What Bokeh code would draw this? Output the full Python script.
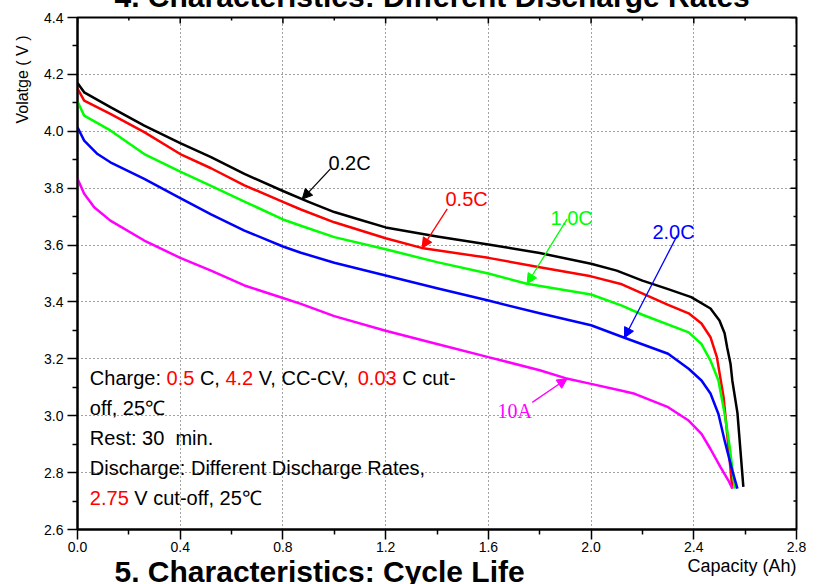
import numpy as np
from bokeh.plotting import figure
from bokeh.models import Range1d, FixedTicker, Label, Arrow, NormalHead, Title
from bokeh.embed import file_html
from bokeh.resources import INLINE

# ---------------- data ----------------
x_ticks = [0.0, 0.4, 0.8, 1.2, 1.6, 2.0, 2.4, 2.8]
x_tick_labels = ["0.0", "0.4", "0.8", "1.2", "1.6", "2.0", "2.4", "2.8"]
x_minor = [0.2, 0.6, 1.0, 1.4, 1.8, 2.2, 2.6]
y_ticks = [2.6, 2.8, 3.0, 3.2, 3.4, 3.6, 3.8, 4.0, 4.2, 4.4]
y_tick_labels = ["2.6", "2.8", "3.0", "3.2", "3.4", "3.6", "3.8", "4.0", "4.2", "4.4"]
y_minor = [2.7, 2.9, 3.1, 3.3, 3.5, 3.7, 3.9, 4.1, 4.3]

c02_x = [0.0, 0.026, 0.128, 0.26, 0.4, 0.52, 0.65, 0.8, 0.9, 1.0, 1.1, 1.2, 1.4, 1.6, 1.8,
         2.0, 2.1, 2.2, 2.3, 2.39, 2.465, 2.5, 2.52, 2.53, 2.543, 2.55, 2.57, 2.593]
c02_y = [4.17, 4.137, 4.085, 4.02, 3.958, 3.909, 3.85, 3.79, 3.752, 3.716, 3.689, 3.662, 3.63,
         3.602, 3.572, 3.534, 3.51, 3.475, 3.445, 3.417, 3.377, 3.335, 3.29, 3.24, 3.183,
         3.124, 3.01, 2.75]

c05_x = [0.0, 0.026, 0.128, 0.26, 0.4, 0.52, 0.65, 0.8, 0.87, 1.0, 1.2, 1.34, 1.6, 1.8, 2.0,
         2.12, 2.3, 2.38, 2.43, 2.465, 2.49, 2.516, 2.535, 2.55]
c05_y = [4.15, 4.108, 4.061, 3.997, 3.92, 3.87, 3.81, 3.752, 3.725, 3.68, 3.624, 3.59, 3.555,
         3.522, 3.49, 3.462, 3.39, 3.36, 3.324, 3.276, 3.206, 3.065, 2.89, 2.744]

c10_x = [0.0, 0.026, 0.128, 0.26, 0.4, 0.52, 0.65, 0.8, 0.87, 1.0, 1.2, 1.4, 1.6, 1.75, 2.0,
         2.12, 2.2, 2.38, 2.43, 2.465, 2.496, 2.52, 2.54, 2.56]
c10_y = [4.105, 4.055, 4.003, 3.92, 3.858, 3.808, 3.753, 3.69, 3.668, 3.628, 3.585, 3.54, 3.50,
         3.464, 3.426, 3.387, 3.355, 3.293, 3.252, 3.194, 3.124, 3.008, 2.889, 2.744]

c20_x = [0.0, 0.026, 0.078, 0.128, 0.26, 0.4, 0.52, 0.65, 0.8, 0.87, 1.0, 1.2, 1.4, 1.6, 1.8,
         2.0, 2.13, 2.3, 2.38, 2.43, 2.465, 2.496, 2.52, 2.55, 2.57]
c20_y = [4.014, 3.967, 3.92, 3.891, 3.833, 3.765, 3.708, 3.651, 3.595, 3.573, 3.538, 3.493,
         3.448, 3.405, 3.36, 3.318, 3.274, 3.218, 3.165, 3.124, 3.078, 3.006, 2.913, 2.807, 2.744]

c10a_x = [0.0, 0.026, 0.065, 0.128, 0.26, 0.4, 0.52, 0.65, 0.8, 0.87, 1.0, 1.2, 1.4, 1.6, 1.8,
          1.9, 2.0, 2.12, 2.17, 2.3, 2.38, 2.43, 2.465, 2.504, 2.535, 2.55]
c10a_y = [3.833, 3.78, 3.733, 3.686, 3.616, 3.555, 3.51, 3.458, 3.414, 3.393, 3.35, 3.299,
          3.252, 3.206, 3.16, 3.132, 3.112, 3.088, 3.077, 3.03, 2.983, 2.936, 2.883, 2.819,
          2.772, 2.744]

series_names = ["0.2C", "0.5C", "1.0C", "2.0C", "10A"]
series_colors = ["#000000", "#ff0000", "#00ff00", "#0000ff", "#ff00ff"]
series_x = [c02_x, c05_x, c10_x, c20_x, c10a_x]
series_y = [c02_y, c05_y, c10_y, c20_y, c10a_y]

# ---------------- figure ----------------
FONT = "Liberation Sans"
X0, X1, Y0, Y1 = 0.0, 2.8, 2.6, 4.4
p = figure(width=824, height=584, x_range=Range1d(X0, X1), y_range=Range1d(Y0, Y1),
           output_backend="svg", toolbar_location=None,
           min_border_left=77, min_border_right=28, min_border_top=17, min_border_bottom=55)
p.background_fill_color = "white"
p.border_fill_color = "white"
p.outline_line_color = "black"
p.outline_line_width = 2

FW, FH = 719, 512                # frame size in pixels
PXX = FW / (X1 - X0)             # pixels per Ah
PXY = FH / (Y1 - Y0)             # pixels per V

xt = FixedTicker(ticks=x_ticks, minor_ticks=x_minor)
yt = FixedTicker(ticks=y_ticks, minor_ticks=y_minor)

for ax, tk, labs, ticks in ((p.xaxis[0], xt, x_tick_labels, x_ticks),
                            (p.yaxis[0], yt, y_tick_labels, y_ticks)):
    ax.ticker = tk
    ax.major_label_overrides = {t: l for t, l in zip(ticks, labs)}
    ax.axis_line_width = 2
    ax.axis_line_color = "black"
    ax.major_tick_line_width = 1.5
    ax.minor_tick_line_width = 1.5
    ax.major_tick_out = 10
    ax.major_tick_in = 0
    ax.minor_tick_out = 5
    ax.minor_tick_in = 0
    ax.major_label_text_font = FONT
    ax.major_label_text_font_size = "14px"
    ax.major_label_text_color = "black"
p.xaxis[0].major_label_standoff = 2
p.yaxis[0].major_label_standoff = 4

for g in (p.xgrid[0], p.ygrid[0]):
    g.grid_line_color = "#444444"
    g.grid_line_dash = "1 3"
    g.grid_line_width = 1

# inward ticks on the top and right frame edges
for ticks, ln in ((x_ticks, 6), (x_minor, 3)):
    p.segment(x0=ticks, y0=[Y1] * len(ticks), x1=ticks, y1=[Y1 - ln / PXY] * len(ticks),
              line_color="black", line_width=1.5)
for ticks, ln in ((y_ticks, 6), (y_minor, 3)):
    p.segment(x0=[X1] * len(ticks), y0=ticks, x1=[X1 - ln / PXX] * len(ticks), y1=ticks,
              line_color="black", line_width=1.5)

for xs, ys, col in zip(series_x, series_y, series_colors):
    p.line(xs, ys, line_color=col, line_width=2.5, line_join="round")

# ---------------- annotations ----------------
# arrows: (series index, tip x, tail x, tail y)
arrows = [(0, 0.875, 0.985, 3.868), (1, 1.342, 1.44, 3.727), (2, 1.751, 1.907, 3.692),
          (3, 2.13, 2.335, 3.633), (4, 1.907, 1.771, 3.047)]
for idx, tx, sx, sy in arrows:
    ty = float(np.interp(tx, series_x[idx], series_y[idx]))
    col = series_colors[idx]
    p.add_layout(Arrow(x_start=sx, y_start=sy, x_end=tx, y_end=ty, line_color=col,
                       line_width=1.3,
                       end=NormalHead(size=10, fill_color=col, line_color=col, line_width=1)))

label_pos = [(0.977, 3.890), (1.433, 3.7625), (1.842, 3.696), (2.239, 3.645), (1.636, 3.018)]
for i, (lx, ly) in enumerate(label_pos):
    font = "Liberation Serif" if series_names[i] == "10A" else FONT
    p.add_layout(Label(x=lx, y=ly, text=series_names[i], text_color=series_colors[i],
                       text_font=font, text_font_size="20px", text_baseline="alphabetic"))

# condition text block
bx = 0.048
line_y = [3.133, 3.028, 2.922, 2.817, 2.711]
segments = [
    (0, 0.0, "Charge:", "black"), (0, 76.7, "0.5", "red"), (0, 110.1, "C,", "black"),
    (0, 135.6, "4.2", "red"), (0, 169.0, "V, CC-CV,", "black"), (0, 267.9, "0.03", "red"),
    (0, 312.4, "C cut-", "black"),
    (1, 0.0, "off, 25℃", "black"),
    (2, 0.0, "Rest: 30\u00a0 min.", "black"),
    (3, 0.0, "Discharge: Different Discharge Rates,", "black"),
    (4, 0.0, "2.75", "red"), (4, 44.5, "V cut-off, 25℃", "black"),
]
for ln, off, txt, col in segments:
    p.add_layout(Label(x=bx + off / PXX, y=line_y[ln], text=txt, text_color=col,
                       text_font=FONT, text_font_size="20px", text_baseline="alphabetic"))

# ---------------- texts outside the frame: side-panel titles ----------------
def side_title(text, place, size, style="normal", **kw):
    p.add_layout(Title(text=text, text_font=FONT, text_font_size=size,
                       text_font_style=style, text_color="black", **kw), place)

side_title("Volatge ( V )", "left", "16px", align="right", vertical_align="top",
           offset=18, standoff=18)
side_title("Capacity (Ah)", "below", "18px", align="right", vertical_align="top",
           offset=0, standoff=2)
side_title("5. Characteristics: Cycle Life", "below", "30px", "bold", align="left",
           vertical_align="top", offset=37, standoff=-47)
side_title("4. Characteristics: Different Discharge Rates", "above", "30px", "bold",
           align="left", vertical_align="top", offset=37, standoff=-76)

open("out.html", "w").write(file_html(p, INLINE))
